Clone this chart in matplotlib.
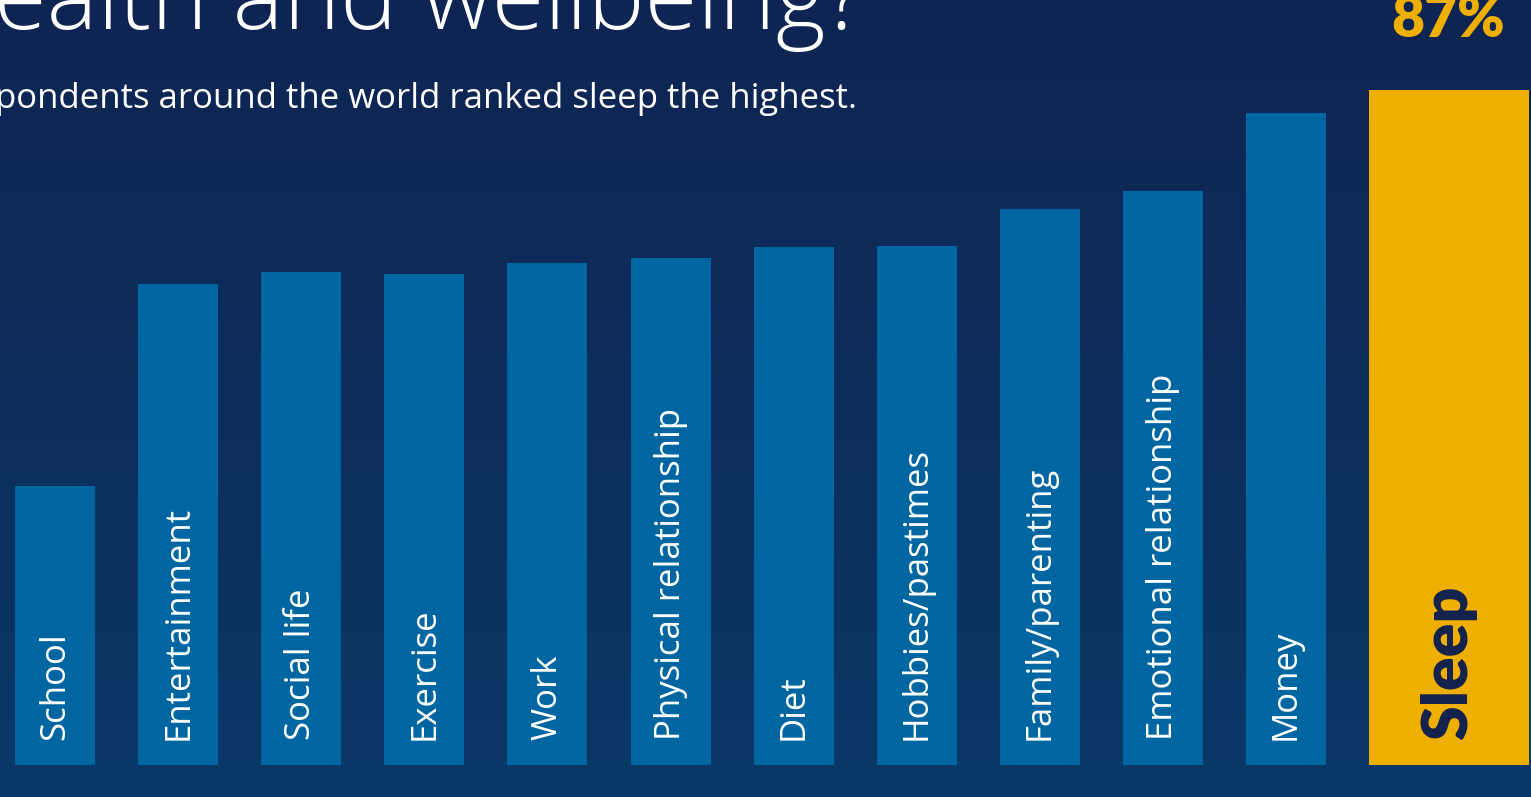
import numpy as np
import matplotlib
matplotlib.use('Agg')
import matplotlib.pyplot as plt
from matplotlib.colors import LinearSegmentedColormap

# data
categories = ['School', 'Entertainment', 'Social life', 'Exercise', 'Work',
              'Physical relationship', 'Diet', 'Hobbies/pastimes',
              'Family/parenting', 'Emotional relationship', 'Money', 'Sleep']
values = [36, 62, 63.6, 63.3, 64.7, 65.3, 66.8, 66.9, 71.7, 74, 84, 87]
title_text = 'ealth and wellbeing?'
subtitle_text = 'pondents around the world ranked sleep the highest.'
highlight_label = '87%'

bg_top = '#0F2452'
bg_bottom = '#0B3867'
bar_blue = '#0066A1'
gold = '#EEAF00'
navy = '#13214F'

fig = plt.figure(figsize=(15.31, 7.97), dpi=100)

# background gradient
bg = fig.add_axes([0, 0, 1, 1], zorder=0)
cmap = LinearSegmentedColormap.from_list('bg', [bg_top, bg_bottom])
bg.imshow(np.linspace(0, 1, 256).reshape(-1, 1), aspect='auto', cmap=cmap,
          extent=[0, 1, 0, 1], origin='upper')
bg.axis('off')

ax = fig.add_axes([0, 0, 1, 1], zorder=1)
ax.patch.set_alpha(0)
ax.axis('off')

n = len(categories)
pos = np.arange(n, dtype=float)
pos[-1] += 0.324
widths = np.full(n, 0.65)
widths[-1] = 1.3
colors = [bar_blue] * (n - 1) + [gold]

ax.bar(pos, values, width=widths, color=colors)
ax.set_xlim(-0.447, 11.99)
ax.set_ylim(-4.12, 98.6)

for i, (x, lab) in enumerate(zip(pos, categories)):
    if i == n - 1:
        ax.text(x, 3.2, lab, rotation=90, ha='center', va='bottom',
                color=navy, fontsize=45, fontweight='heavy', family='Lato')
    else:
        ax.text(x, 3.2, lab, rotation=90, ha='center', va='bottom',
                color='white', fontsize=25, family='Open Sans')

fig.text(-0.004, 0.964, title_text, color='white', fontsize=69,
         family='Open Sans', fontweight='light', ha='left', va='baseline')
fig.text(-0.003, 0.864, subtitle_text, color='white', fontsize=25,
         family='Open Sans', ha='left', va='baseline')
fig.text(0.946, 0.954, highlight_label, color=gold, fontsize=41,
         family='Lato', fontweight='heavy', ha='center', va='baseline')

fig.savefig('out.png', dpi=100)
